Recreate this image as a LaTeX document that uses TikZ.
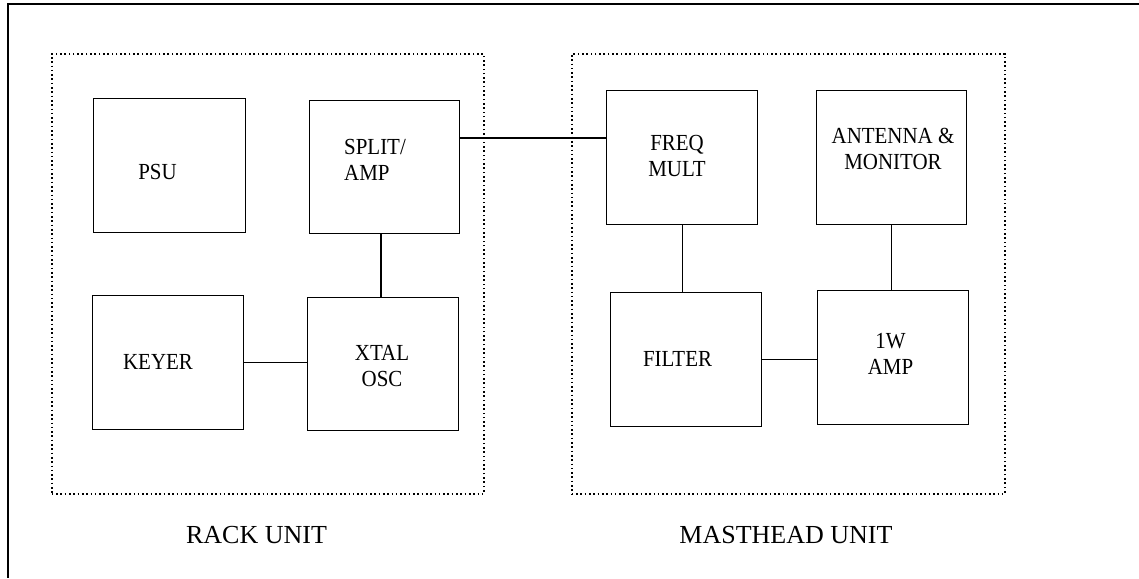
\documentclass[tikz,border=0pt]{standalone}
\usepackage{fontspec}
\setmainfont{Liberation Serif}
\begin{document}
\begin{tikzpicture}[x=1pt,y=-1pt,
  blk/.style={draw,line width=1.3pt,inner sep=0pt,anchor=north west},
  unitbox/.style={draw,line width=1.6pt,dash pattern=on 1.6pt off 2.7pt,inner sep=0pt,anchor=north west},
  wire/.style={line width=1.2pt},
  lbl/.style={font=\fontsize{23}{25.5}\selectfont,inner sep=0pt,anchor=base,align=center,xscale=0.91},
  unitlbl/.style={font=\fontsize{26}{30}\selectfont,inner sep=0pt,anchor=base}]
\useasboundingbox (0,0) rectangle (1139,578);
% outer frame (top and left only)
\draw[line width=2pt] (1139,4) -- (8,4) -- (8,578);
% unit outlines
\node[unitbox,minimum width=432pt,minimum height=440pt] (rack) at (51,53) {};
\node[unitbox,minimum width=433pt,minimum height=440pt] (mast) at (571,53) {};
% blocks
\node[blk,minimum width=152pt,minimum height=134pt] (psu) at (93,98) {};
\node[blk,minimum width=150pt,minimum height=133pt] (split) at (309,100) {};
\node[blk,minimum width=151pt,minimum height=134pt] (keyer) at (92,295) {};
\node[blk,minimum width=151pt,minimum height=133pt] (xtal) at (307,297) {};
\node[blk,minimum width=151pt,minimum height=134pt] (freq) at (606,90) {};
\node[blk,minimum width=150pt,minimum height=134pt] (ant) at (816,90) {};
\node[blk,minimum width=151pt,minimum height=134pt] (filter) at (610,292) {};
\node[blk,minimum width=151pt,minimum height=134pt] (amp) at (817,290) {};
% texts (multi-line: anchor at baseline of last line)
\node[lbl] (tpsu) at (157.5,179) {PSU};
\node[lbl,anchor=base west,align=left] (tsplit) at (344,180) {SPLIT/\\AMP};
\node[lbl] (tkeyer) at (158,369) {KEYER};
\node[lbl] (txtal) at (382,386) {XTAL\\OSC};
\node[lbl] (tfreq) at (677,176) {FREQ\\MULT};
\node[lbl] (tant) at (893,169) {ANTENNA \&\\MONITOR};
\node[lbl] (tfilter) at (677.5,366) {FILTER};
\node[lbl] (tamp) at (890.5,374) {1W\\AMP};
\node[unitlbl] (track) at (256.5,543) {RACK UNIT};
\node[unitlbl] (tmast) at (786,543) {MASTHEAD UNIT};
% connectors
\coordinate (c1) at (0,138);
\coordinate (c2) at (381,0);
\draw[wire] (split.east |- c1) -- (freq.west |- c1);
\draw[wire] (split.south -| c2) -- (xtal.north -| c2);
\draw[wire] (keyer.east) -- (keyer.east -| xtal.west);
\draw[wire] (freq.south) -- (freq.south |- filter.north);
\draw[wire] (ant.south) -- (ant.south |- amp.north);
\draw[wire] (filter.east) -- (filter.east -| amp.west);
\end{tikzpicture}
\end{document}
